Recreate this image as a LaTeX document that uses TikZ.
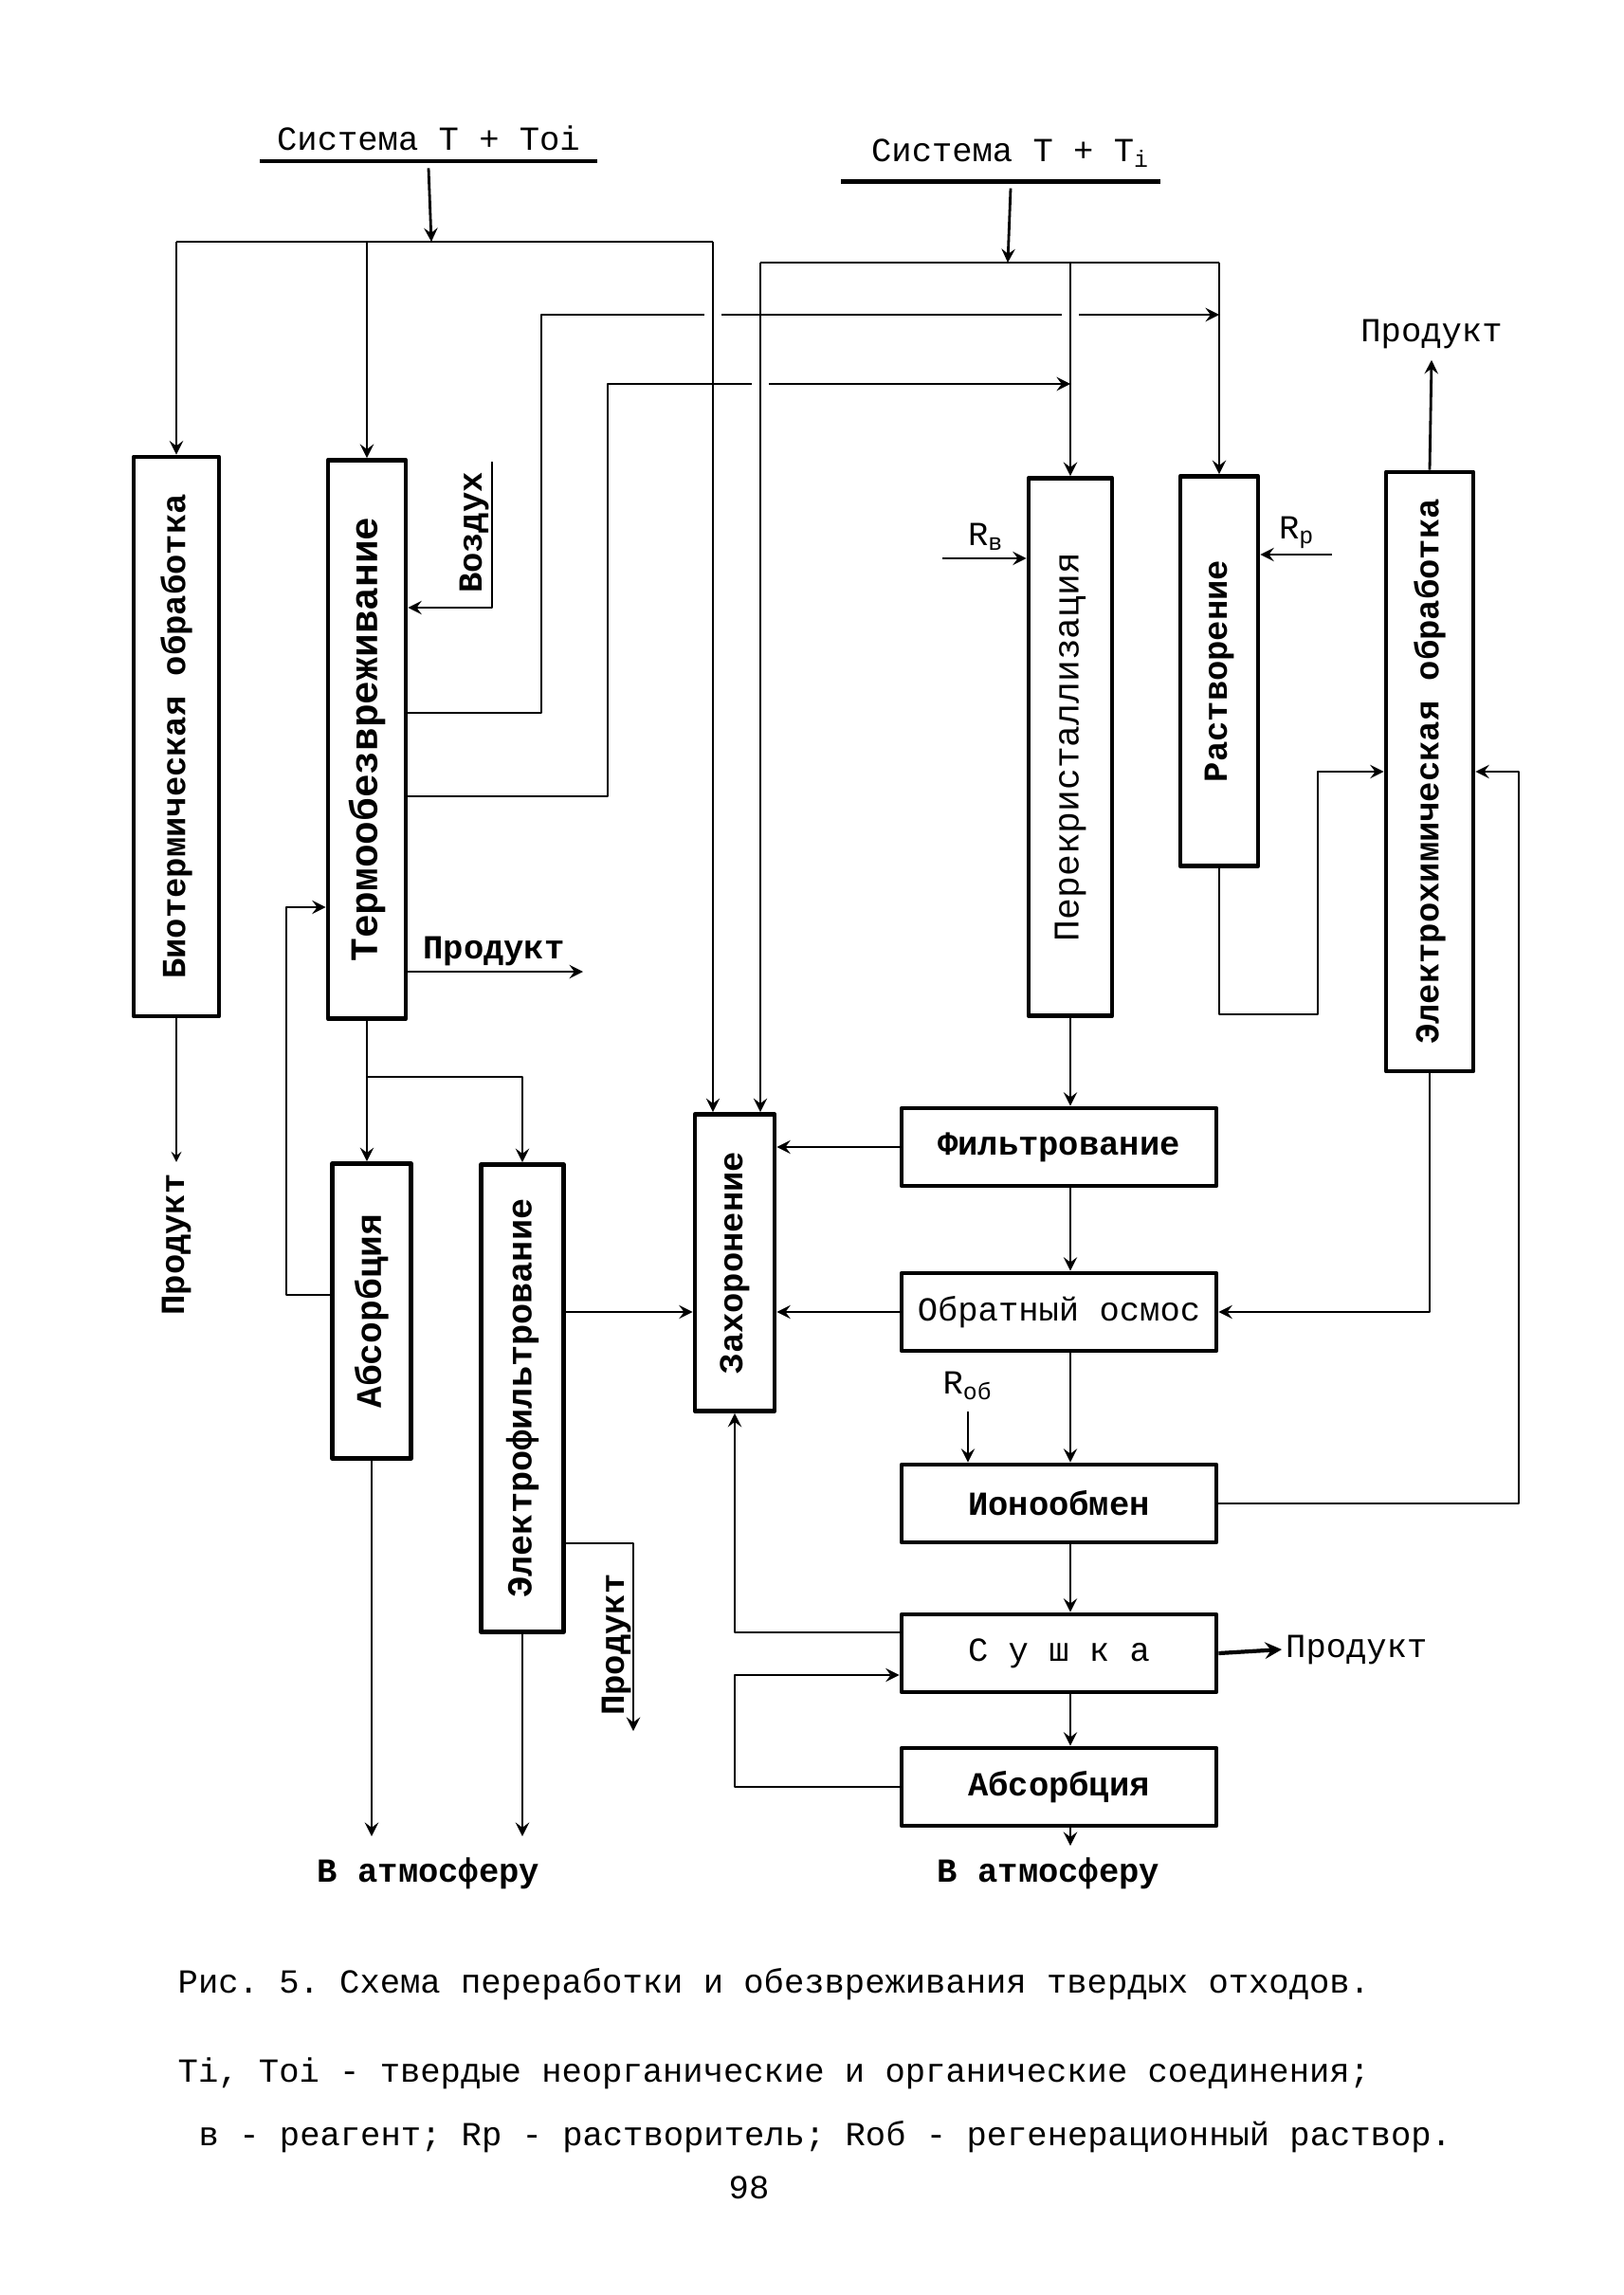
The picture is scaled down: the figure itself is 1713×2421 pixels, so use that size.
\documentclass[tikz,border=0pt]{standalone}
\usepackage{fontspec}
\usepackage{graphicx}
\setmainfont{Liberation Mono}
\frenchspacing
\begin{document}
\begin{tikzpicture}[x=0.01cm,y=-0.01cm,>=stealth,line join=round,
    font=\fontsize{10.1}{12}\selectfont,
    ln/.style={line width=0.8pt},
    vbx/.style={draw,line width=1.3pt,inner sep=0pt},
    hbx/.style={draw,line width=1.3pt,inner sep=0pt,minimum width=3.32cm,minimum height=0.82cm}]
\useasboundingbox (0,0) rectangle (1713,2421);
\foreach \n/\x/\y/\w/\h/\ser/\sz/\t in {biot/186/777/0.90/5.90/b/10.1/Биотермическая обработка,
    thermo/387/780/0.82/5.89/b/11.7/Термообезвреживание,
    perek/1129/788/0.88/5.67/m/10.8/Перекристаллизация,
    rast/1286/708/0.82/4.11/b/10.1/Растворение,
    elchem/1508/814/0.92/6.32/b/10.1/Электрохимическая обработка,
    absl/392/1383/0.83/3.11/b/10.8/Абсорбция,
    efilt/551/1475/0.87/4.93/b/10.5/Электрофильтрование,
    zah/775/1332/0.84/3.13/b/10.1/Захоронение}
  \node[vbx,minimum width=\w cm,minimum height=\h cm] (\n) at (\x,\y) {\fontsize{\sz}{14}\fontseries{\ser}\selectfont\rotatebox{90}{\t}};
\foreach \n/\y/\ser/\t in {filt/1210/b/Фильтрование,osm/1384/m/Обратный осмос,
    iono/1586/b/Ионообмен,sush/1744/m/С у ш к а,absb/1885/b/Абсорбция}
  \node[hbx] (\n) at (1117,\y) {\fontseries{\ser}\selectfont\t};
\node[inner sep=1pt] (sysa) at (452,146) {Система T + Toi};
\node[inner sep=1pt] (sysb) at (1066,162) {Система T + T\textsubscript{i}};
\draw[line width=1.2pt] ([xshift=-4pt,yshift=-2pt]sysa.south west) -- ([xshift=4pt,yshift=-2pt]sysa.south east);
\draw[line width=1.2pt] ([xshift=-8pt,yshift=-3pt]sysb.south west) -- ([xshift=2pt,yshift=-3pt]sysb.south east);
\coordinate (ja) at (455,255);
\coordinate (jb) at (1063,277);
\coordinate (za) at (752,255);
\coordinate (zb) at (802,277);
\coordinate (la) at (571,332);
\coordinate (ta) at (571,752);
\coordinate (lb) at (641,405);
\coordinate (tb) at (641,840);
\draw[->,ln] (ta -| thermo.east) -- (ta) -- (la) -- (la -| rast.north);
\draw[->,ln] (tb -| thermo.east) -- (tb) -- (lb) -- (lb -| perek.north);
\foreach \p in {(za |- la),(zb |- lb),(perek.north |- la)}
  \fill[white] \p ++(-9,-6) rectangle ++(18,12);
\draw[->,ln] ([yshift=-4pt]sysa.south) -- (ja);
\draw[->,ln] ([yshift=-5pt]sysb.south) -- (jb);
\draw[ln] (biot.north |- ja) -- (za);
\draw[ln] (zb) -- (rast.north |- jb);
\draw[->,ln] (biot.north |- ja) -- (biot.north);
\draw[->,ln] (thermo.north |- ja) -- (thermo.north);
\draw[->,ln] (za) -- (za |- zah.north);
\draw[->,ln] (zb) -- (zb |- zah.north);
\draw[->,ln] (perek.north |- jb) -- (perek.north);
\draw[->,ln] (rast.north |- jb) -- (rast.north);
\node[inner sep=1pt] (air) at (500,562) {\bfseries\rotatebox{90}{Воздух}};
\coordinate (aira) at (519,487);
\coordinate (airb) at (519,641);
\draw[->,ln] (aira) -- (airb) -- (airb -| thermo.east);
\node[inner sep=1pt] (prodt) at (521,1003) {\bfseries Продукт};
\coordinate (pt) at (615,1025);
\draw[->,ln] (pt -| thermo.east) -- (pt);
\coordinate (fa) at (302,1366);
\coordinate (fb) at (302,957);
\draw[->,ln] (fa -| absl.west) -- (fa) -- (fb) -- (fb -| thermo.west);
\coordinate (td) at (387,1136);
\draw[->,ln] (thermo.south) -- (td) -- (td |- absl.north);
\draw[->,ln] (td) -| (efilt.north);
\node (prodb) at (186,1313) {\bfseries\rotatebox{90}{Продукт}};
\draw[->,thin] (biot.south) -- (prodb.north);
\node (rv) at (1040,566) {R\textsubscript{в}};
\coordinate (rva) at (994,589);
\draw[->,ln] (rva) -- (rva -| perek.west);
\node (rp) at (1368,562) {R\textsubscript{р}};
\coordinate (rpa) at (1405,585);
\draw[->,ln] (rpa) -- (rpa -| rast.east);
\node (prode) at (1510,352) {Продукт};
\draw[->,ln] (elchem.north) -- (prode.south);
\coordinate (re) at (1390,1070);
\draw[->,ln] (rast.south) |- (re) |- (elchem.west);
\coordinate (ie) at (1602,1586);
\draw[->,ln] (iono.east) -- (ie) |- (elchem.east);
\draw[->,ln] (elchem.south) |- (osm.east);
\draw[->,ln] (filt.west) -- (filt.west -| zah.east);
\draw[->,ln] (osm.west) -- (osm.west -| zah.east);
\draw[->,ln] (efilt.east |- osm.west) -- (zah.west |- osm.west);
\draw[->,ln] (perek.south) -- (perek.south |- filt.north);
\draw[->,ln] (filt.south -| perek.south) -- (osm.north -| perek.south);
\draw[->,ln] (osm.south -| perek.south) -- (iono.north -| perek.south);
\draw[->,ln] (iono.south -| perek.south) -- (sush.north -| perek.south);
\draw[->,ln] (sush.south -| perek.south) -- (absb.north -| perek.south);
\node (rob) at (1021,1462) {R\textsubscript{об}};
\draw[->,ln] (rob.south) -- (rob.south |- iono.north);
\coordinate (sz) at (775,1722);
\draw[->,ln] (sz -| sush.west) -- (sz) -- (zah.south);
\coordinate (sl) at (775,1767);
\draw[->,ln] (absb.west) -| (sl) -- (sl -| sush.west);
\node[anchor=west,inner sep=1pt] (prods) at (1352,1740) {Продукт};
\draw[->,line width=1.2pt] (sush.east) -- (prods.west);
\node (atmb) at (1106,1976) {\bfseries В атмосферу};
\draw[->,ln] (absb.south -| perek.south) -- (atmb.north -| perek.south);
\node (atma) at (452,1976) {\bfseries В атмосферу};
\coordinate (atm) at (0,1937);
\draw[->,ln] (absl.south) -- (absl.south |- atm);
\draw[->,ln] (efilt.south) -- (efilt.south |- atm);
\node[inner sep=1pt] (prodf) at (650,1735) {\bfseries\rotatebox{90}{Продукт}};
\coordinate (fp) at (668,1628);
\coordinate (fq) at (668,1826);
\draw[->,ln] (fp -| efilt.east) -- (fp) -- (fq);
\node[anchor=west,inner sep=0pt] (cap) at (187,2093) {Рис. 5. Схема переработки и обезвреживания твердых отходов.};
\node[anchor=west,inner sep=0pt] (leg1) at (187,2187) {Ti, Toi - твердые неорганические и органические соединения;};
\node[anchor=west,inner sep=0pt] (leg2) at (209,2254) {в - реагент;\ Rр - растворитель;\ Rоб - регенерационный раствор.};
\node (page) at (790,2308) {98};
\end{tikzpicture}
\end{document}
